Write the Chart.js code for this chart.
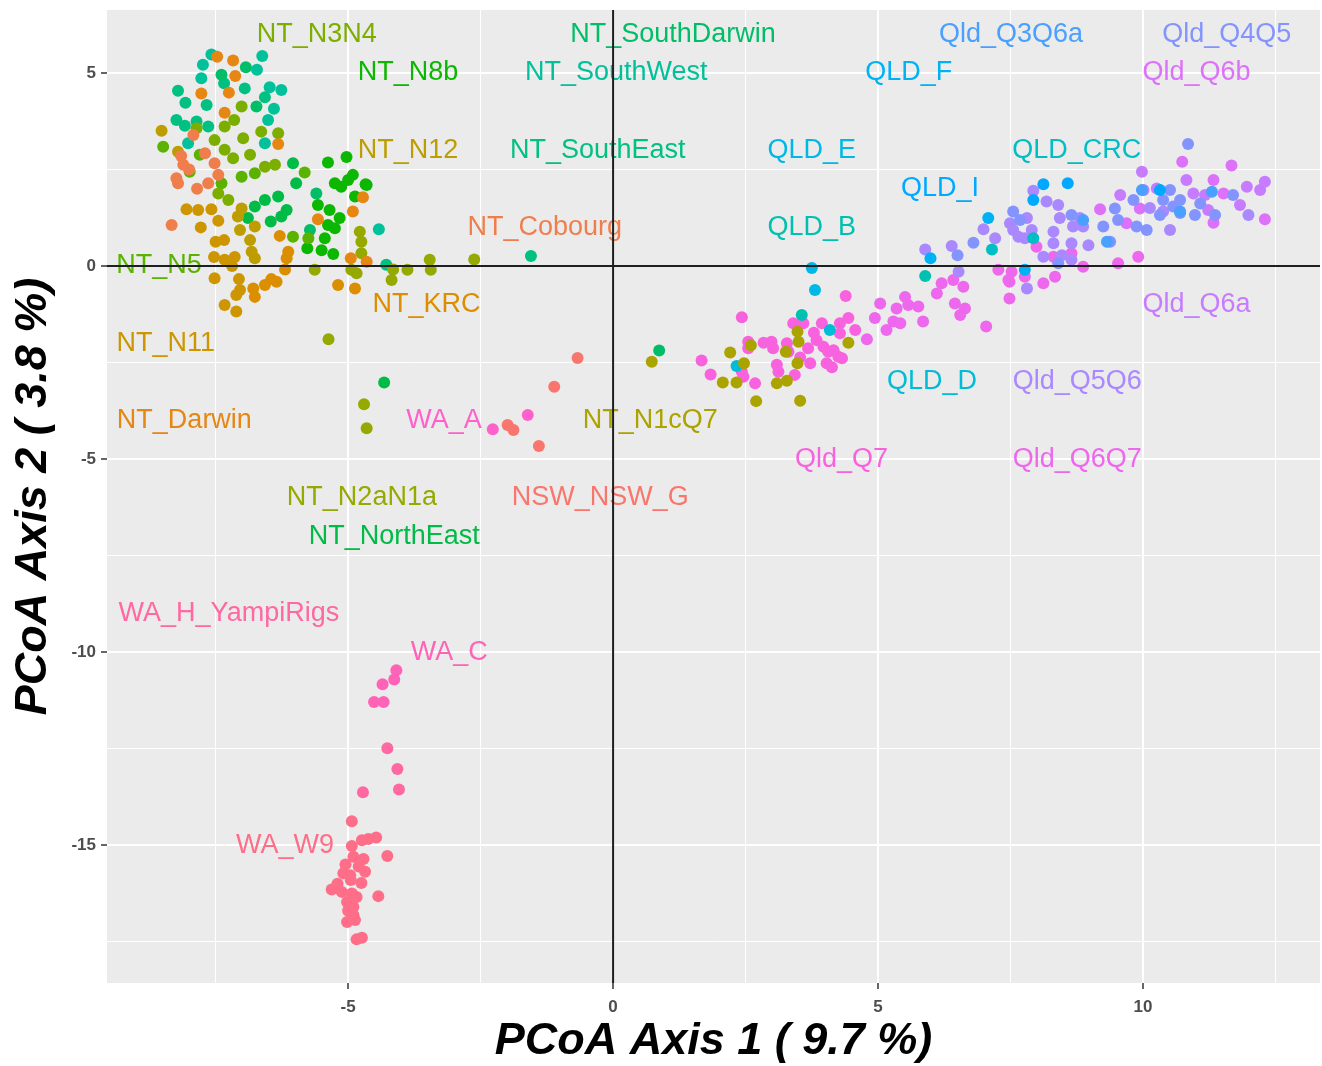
<!DOCTYPE html>
<html>
<head>
<meta charset="utf-8">
<title>PCoA</title>
<script src="https://cdn.jsdelivr.net/npm/chart.js@4.4.1/dist/chart.umd.min.js"></script>
<style>
  html, body { margin: 0; padding: 0; background: #ffffff; }
  canvas { display: block; }
</style>
</head>
<body>
<canvas id="pcoa" width="1322" height="1066"></canvas>
<script>
// Population groups (alphabetical, as in the colour scale)
const groupNames = [
  'NSW_NSW_G', 'NT_Cobourg', 'NT_Darwin', 'NT_KRC', 'NT_N11', 'NT_N12', 'NT_N1cQ7', 'NT_N2aN1a',
  'NT_N3N4', 'NT_N5', 'NT_N8b', 'NT_NorthEast', 'NT_SouthDarwin', 'NT_SouthEast', 'NT_SouthWest',
  'QLD_B', 'QLD_CRC', 'QLD_D', 'QLD_E', 'QLD_F', 'QLD_I', 'Qld_Q3Q6a', 'Qld_Q4Q5', 'Qld_Q5Q6',
  'Qld_Q6a', 'Qld_Q6b', 'Qld_Q6Q7', 'Qld_Q7', 'WA_A', 'WA_C', 'WA_H_YampiRigs', 'WA_W9'
];

// Group label positions (PCoA axis units)
const labelX = [-0.24, -1.29, -8.09, -3.52, -8.44, -3.87, 0.70, -4.74,
  -5.59, -8.57, -3.87, -4.13, 1.13, -0.29, 0.06,
  3.75, 8.75, 6.02, 3.75, 5.58, 6.17, 7.51, 11.58, 8.76,
  11.01, 11.01, 8.76, 4.31, -3.19, -3.09, -7.25, -6.19];
const labelY = [-6, 1, -4, -1, -2, 3, -4, -6,
  6, 0, 5, -7, 6, 3, 5,
  1, 3, -3, 3, 5, 2, 6, 6, -3,
  -1, 5, -5, -5, -4, -10, -9, -15];

// Sample scores [axis 1, axis 2] per group
const NSW_NSW_G = [[-0.67,-2.38],[-1.11,-3.13],[-1.99,-4.12],[-1.88,-4.25],[-1.40,-4.66]];
const NT_Cobourg = [[-8.11,2.62],[-8.21,2.14],[-8.24,2.27],[-7.92,3.39],[-7.52,2.66],[-7.64,2.14],
  [-7.45,2.36],[-7.70,2.92],[-8.33,1.06],[-8.00,2.50],[-7.85,2.00],[-8.15,2.85]];
const NT_Darwin = [[-7.47,5.42],[-7.17,5.32],[-7.13,4.92],[-7.77,4.47],[-7.25,4.49],[-7.33,3.97],
  [-6.32,3.16],[-4.72,1.78],[-4.91,1.41],[-5.57,1.21],[-4.95,0.20],[-4.65,0.11]];
const NT_KRC = [[-5.19,-0.49],[-4.87,-0.58],[-6.19,-0.09],[-6.13,0.37],[-6.16,0.20],[-6.29,0.78],
  [-6.57,-0.49],[-6.45,-0.34],[-6.35,-0.41],[-6.79,-0.58],[-6.76,-0.80]];
const NT_N11 = [[-8.05,1.47],[-7.83,1.45],[-7.58,1.47],[-7.78,1.00],[-7.45,1.17],[-7.50,0.63],
  [-7.34,0.67],[-7.53,0.23],[-7.33,0.16],[-7.14,0.23],[-7.19,0.00],[-7.52,-0.32],[-7.06,-0.34],
  [-7.04,-0.62],[-7.11,-0.75],[-7.33,-1.01],[-7.11,-1.18]];
const NT_N12 = [[-8.52,3.50],[-8.21,2.96],[-6.85,0.67],[-6.76,0.20],[-6.82,0.37],[-7.08,1.28],
  [-7.04,0.93],[-7.01,1.49],[-6.76,1.02]];
const NT_N1cQ7 = [[0.73,-2.48],[2.21,-2.24],[2.47,-2.52],[2.60,-2.05],[2.07,-3.02],[2.33,-3.02],
  [2.70,-3.50],[3.09,-3.04],[3.28,-2.97],[3.26,-2.22],[3.48,-1.70],[3.50,-1.96],[3.48,-2.52],
  [3.53,-3.49],[4.44,-1.99]];
const NT_N2aN1a = [[-4.78,0.89],[-4.75,0.63],[-4.75,0.33],[-4.94,-0.10],[-4.84,-0.19],[-4.15,-0.09],
  [-4.18,-0.36],[-3.88,-0.10],[-3.46,0.16],[-3.44,-0.10],[-2.62,0.17],[-5.63,-0.10],[-5.37,-1.90],
  [-4.70,-3.58],[-4.65,-4.20]];
const NT_N3N4 = [[-7.01,4.13],[-7.15,3.78],[-6.98,3.31],[-6.64,3.48],[-6.32,3.44],[-6.85,2.88],
  [-6.57,2.57],[-7.17,2.79],[-7.33,3.01],[-7.52,3.26],[-7.86,3.57],[-7.33,3.61],[-6.38,2.62],
  [-7.45,1.88],[-7.26,1.71]];
const NT_N5 = [[-7.80,2.88],[-7.99,2.44],[-7.39,2.14],[-7.01,2.31],[-6.76,2.40],[-5.82,2.42],
  [-6.04,0.76],[-5.75,0.72],[-8.49,3.09]];
const NT_N8b = [[-5.38,2.68],[-5.03,2.82],[-4.91,2.36],[-5.00,2.23],[-5.25,2.14],[-4.67,2.12],
  [-5.13,2.05],[-4.87,1.80],[-4.65,2.10],[-5.57,1.58],[-5.35,1.45],[-5.38,1.06],[-5.16,1.24],
  [-5.25,0.98],[-5.44,0.72],[-5.77,0.46],[-5.50,0.41],[-5.28,0.31]];
const NT_NorthEast = [[-5.98,2.14],[-6.04,2.66],[-6.76,1.54],[-6.57,1.71],[-6.32,1.80],[-6.16,1.45],
  [-6.26,1.28],[-6.46,1.15],[-6.89,1.24],[-4.32,-3.02]];
const NT_SouthDarwin = [[0.87,-2.19],[-5.60,1.88],[-5.72,0.93],[-6.93,5.15],[-7.39,4.95],[-6.73,4.13]];
const NT_SouthEast = [[-7.34,4.73],[-6.95,4.60],[-8.21,4.54],[-8.07,4.23],[-7.67,4.17],[-6.57,4.37],
  [-8.24,3.78],[-8.08,3.63],[-7.86,3.74],[-7.64,3.61],[-4.28,0.03],[-1.55,0.26]];
const NT_SouthWest = [[-7.58,5.48],[-6.62,5.44],[-7.74,5.21],[-6.72,5.08],[-7.77,4.86],[-6.48,4.63],
  [-6.26,4.56],[-6.40,4.07],[-6.51,3.78],[-6.57,3.18],[-8.02,3.18],[-4.42,0.95]];
const QLD_B = [[3.56,-1.27],[5.89,-0.26]];
const QLD_CRC = [[7.15,0.43],[7.93,0.72]];
const QLD_D = [[4.09,-1.66],[2.33,-2.59]];
const QLD_E = [[3.75,-0.05],[3.81,-0.62]];
const QLD_F = [[7.08,1.24],[5.99,0.20],[7.77,-0.10]];
const QLD_I = [[8.12,2.12],[8.58,2.14],[7.93,1.71],[10.32,1.97]];
const Qld_Q3Q6a = [[9.98,1.97],[10.70,1.41],[11.30,1.92],[9.32,0.63],[8.87,1.19]];
const Qld_Q4Q5 = [[10.85,3.16],[6.80,0.60],[8.40,0.07],[6.50,0.28],[7.55,1.41],[7.68,1.19],
  [9.47,1.49],[10.07,0.93],[11.08,1.62],[8.65,1.32],[9.25,1.02],[9.53,1.19],[9.38,0.63],
  [9.82,1.71],[9.88,1.02],[10.38,1.71],[10.51,1.97],[10.57,1.54],[10.70,1.37],[11.70,1.84],
  [10.70,1.71],[10.98,1.32],[10.32,1.32],[11.36,1.32]];
const Qld_Q5Q6 = [[7.93,1.95],[8.18,1.67],[8.40,1.58],[6.99,0.95],[7.21,0.72],[6.39,0.52],[5.89,0.43],
  [7.49,1.11],[7.81,1.24],[7.90,0.93],[7.65,0.76],[7.55,0.93],[7.77,0.72],[8.12,0.24],[8.31,0.89],
  [8.31,0.59],[8.43,1.24],[8.81,1.24],[8.68,1.02],[8.87,1.02],[8.97,0.54],[8.65,0.59],[8.47,0.28],
  [8.65,0.16],[7.81,-0.58],[6.52,-0.15],[10.38,1.41],[10.51,0.93],[10.13,1.50],[11.99,1.32]];
const Qld_Q6a = [[9.98,2.44],[10.01,1.97],[10.26,2.01],[10.82,2.23],[11.23,1.45],[11.96,2.05],
  [12.21,1.97],[12.30,2.18],[11.17,1.84],[11.83,1.58],[9.57,1.84],[10.95,1.88]];
const Qld_Q6b = [[10.74,2.70],[11.67,2.60],[9.19,1.47],[9.94,1.49],[11.33,2.23],[11.52,1.88],
  [11.33,1.12],[9.69,1.11],[12.30,1.21]];
const Qld_Q6Q7 = [[4.79,-1.90],[4.94,-1.35],[5.04,-0.97],[5.16,-1.66],[5.29,-1.44],[5.42,-1.48],
  [5.35,-1.10],[5.51,-0.80],[5.57,-1.01],[5.76,-1.05],[5.85,-1.44],[6.11,-0.71],[6.20,-0.45],
  [6.42,-0.36],[6.61,-0.54],[6.45,-0.97],[6.64,-1.10],[6.55,-1.27],[7.04,-1.57],[7.48,-0.84],
  [7.48,-0.41],[7.27,-0.10],[7.52,-0.15],[7.46,-0.36],[7.77,-0.28],[8.12,-0.45],[8.34,-0.28],
  [7.99,0.50],[8.31,0.24],[8.65,0.33],[8.87,-0.02],[9.53,0.07],[9.91,0.24]];
const Qld_Q7 = [[2.43,-1.33],[1.67,-2.45],[1.84,-2.81],[2.55,-1.96],[2.55,-2.13],[2.43,-2.74],
  [2.46,-2.87],[2.68,-3.04],[2.84,-1.99],[2.99,-1.96],[3.02,-2.13],[3.09,-2.56],[3.12,-2.74],
  [3.28,-2.00],[3.31,-2.22],[3.40,-1.48],[3.59,-1.48],[3.43,-2.82],[3.53,-2.37],[3.68,-2.13],
  [3.84,-1.92],[3.72,-2.52],[3.79,-1.73],[3.94,-1.48],[3.97,-2.09],[4.06,-2.22],[4.16,-2.18],
  [4.25,-2.35],[4.03,-2.52],[4.13,-2.62],[4.32,-2.39],[4.28,-1.48],[4.44,-1.35],[4.28,-1.74],
  [4.39,-0.78],[4.57,-1.66]];
const WA_A = [[-2.27,-4.23],[-1.61,-3.86]];
const WA_C = [[-4.09,-10.47],[-4.13,-10.71],[-4.35,-10.83],[-4.51,-11.29],[-4.33,-11.29]];
const WA_H_YampiRigs = [[-4.26,-12.49],[-4.07,-13.03],[-4.04,-13.56],[-4.72,-13.63]];
const WA_W9 = [[-4.93,-14.38],[-4.47,-14.80],[-4.62,-14.84],[-4.74,-14.87],[-4.93,-15.02],
  [-4.90,-15.30],[-4.71,-15.36],[-4.26,-15.28],[-4.68,-15.69],[-5.09,-15.73],[-4.96,-15.78],
  [-4.75,-15.98],[-5.31,-16.15],[-5.12,-16.21],[-4.93,-16.25],[-4.84,-16.34],[-4.43,-16.32],
  [-5.02,-16.47],[-4.90,-16.60],[-4.90,-16.81],[-5.02,-16.99],[-4.87,-16.94],[-4.84,-17.44],
  [-4.74,-17.40],[-5.05,-15.50],[-5.20,-16.00],[-4.95,-15.90],[-5.00,-16.70],[-4.80,-15.55]];

const groupPoints = [NSW_NSW_G, NT_Cobourg, NT_Darwin, NT_KRC, NT_N11, NT_N12, NT_N1cQ7, NT_N2aN1a,
  NT_N3N4, NT_N5, NT_N8b, NT_NorthEast, NT_SouthDarwin, NT_SouthEast, NT_SouthWest,
  QLD_B, QLD_CRC, QLD_D, QLD_E, QLD_F, QLD_I, Qld_Q3Q6a, Qld_Q4Q5, Qld_Q5Q6,
  Qld_Q6a, Qld_Q6b, Qld_Q6Q7, Qld_Q7, WA_A, WA_C, WA_H_YampiRigs, WA_W9];

// Axis ticks
const xTicks = [-5, 0, 5, 10];
const yTicks = [-15, -10, -5, 0, 5];

// Evenly spaced hues in polar CIE-Luv (chroma 100, luminance 65)
function hclColor(h, c, l) {
  const hr = h * Math.PI / 180;
  const U = c * Math.cos(hr), V = c * Math.sin(hr);
  const Xn = 95.047, Yn = 100.0, Zn = 108.883;
  const den = Xn + 15 * Yn + 3 * Zn;
  const un = 4 * Xn / den, vn = 9 * Yn / den;
  const Y = Yn * (l > 8 ? Math.pow((l + 16) / 116, 3) : l / 903.3);
  const u = U / (13 * l) + un, v = V / (13 * l) + vn;
  const X = 9 * Y * u / (4 * v);
  const Z = Y * (12 - 3 * u - 20 * v) / (4 * v);
  const x = X / 100, y = Y / 100, z = Z / 100;
  const lin = [
    3.240479 * x - 1.537150 * y - 0.498535 * z,
    -0.969256 * x + 1.875992 * y + 0.041556 * z,
    0.055648 * x - 0.204043 * y + 1.057311 * z
  ];
  const rgb = lin.map(t => {
    const g = t <= 0.0031308 ? 12.92 * t : 1.055 * Math.pow(t, 1 / 2.4) - 0.055;
    return Math.round(Math.min(1, Math.max(0, g)) * 255);
  });
  return 'rgb(' + rgb.join(',') + ')';
}
const nGroups = groupNames.length;
const palette = groupNames.map((_, i) => hclColor(15 + 360 * i / nGroups, 100, 65));

const FONT = "'Liberation Sans', Arial, Helvetica, sans-serif";

const datasets = groupNames.map((name, i) => ({
  label: name,
  data: groupPoints[i].map(p => ({ x: p[0], y: p[1] })),
  backgroundColor: palette[i],
  borderWidth: 0,
  pointRadius: 6,
  pointHoverRadius: 6
}));

// Grey panel behind the grid
const panelBackground = {
  id: 'panelBackground',
  beforeDraw(chart) {
    const { ctx, chartArea: a } = chart;
    ctx.save();
    ctx.fillStyle = '#EBEBEB';
    ctx.fillRect(a.left, a.top, a.right - a.left, a.bottom - a.top);
    ctx.restore();
  }
};

// Group names written in their group colour
const groupLabels = {
  id: 'groupLabels',
  afterDatasetsDraw(chart) {
    const { ctx, chartArea: a } = chart;
    const xs = chart.scales.x, ys = chart.scales.y;
    ctx.save();
    ctx.beginPath();
    ctx.rect(a.left, a.top, a.right - a.left, a.bottom - a.top);
    ctx.clip();
    ctx.font = '27px ' + FONT;
    ctx.textAlign = 'center';
    ctx.textBaseline = 'middle';
    groupNames.forEach((name, i) => {
      ctx.fillStyle = palette[i];
      ctx.fillText(name, xs.getPixelForValue(labelX[i]), ys.getPixelForValue(labelY[i]));
    });
    ctx.restore();
  }
};

// Reference lines through the origin
const originLines = {
  id: 'originLines',
  afterDatasetsDraw(chart) {
    const { ctx, chartArea: a } = chart;
    const x0 = chart.scales.x.getPixelForValue(0);
    const y0 = chart.scales.y.getPixelForValue(0);
    ctx.save();
    ctx.strokeStyle = '#1f1f1f';
    ctx.lineWidth = 2;
    ctx.beginPath();
    ctx.moveTo(x0, a.top); ctx.lineTo(x0, a.bottom);
    ctx.moveTo(a.left, y0); ctx.lineTo(a.right, y0);
    ctx.stroke();
    ctx.restore();
  }
};

const isMajor = (v, list) => list.some(t => Math.abs(t - v) < 1e-6);

new Chart(document.getElementById('pcoa'), {
  type: 'scatter',
  data: { datasets },
  plugins: [panelBackground, groupLabels, originLines],
  options: {
    responsive: false,
    animation: false,
    devicePixelRatio: 1,
    layout: { autoPadding: false, padding: { top: 10, right: 2, left: 0, bottom: 0 } },
    plugins: { legend: { display: false }, tooltip: { enabled: false } },
    scales: {
      x: {
        type: 'linear',
        min: -9.55,
        max: 13.34,
        border: { display: false },
        grid: {
          color: '#FFFFFF',
          lineWidth: c => (c.tick && isMajor(c.tick.value, xTicks)) ? 2 : 1,
          tickColor: c => (c.tick && isMajor(c.tick.value, xTicks)) ? '#333333' : 'rgba(0,0,0,0)',
          tickLength: 6,
          tickWidth: 1.5
        },
        ticks: {
          stepSize: 2.5,
          includeBounds: false,
          autoSkip: false,
          maxRotation: 0,
          padding: 8,
          color: '#4D4D4D',
          font: { family: FONT, size: 17, weight: 'bold' },
          callback: v => isMajor(v, xTicks) ? String(v) : ''
        },
        title: {
          display: true,
          text: 'PCoA Axis 1 ( 9.7 %)',
          color: '#000000',
          font: { family: FONT, size: 45, weight: 'bold', style: 'italic', lineHeight: 1 },
          padding: { top: 0, bottom: 2 }
        },
        afterFit: s => { s.height = 83; s.paddingLeft = 0; s.paddingRight = 0; }
      },
      y: {
        type: 'linear',
        min: -18.57,
        max: 6.63,
        border: { display: false },
        grid: {
          color: '#FFFFFF',
          lineWidth: c => (c.tick && isMajor(c.tick.value, yTicks)) ? 2 : 1,
          tickColor: c => (c.tick && isMajor(c.tick.value, yTicks)) ? '#333333' : 'rgba(0,0,0,0)',
          tickLength: 6,
          tickWidth: 1.5
        },
        ticks: {
          stepSize: 2.5,
          includeBounds: false,
          autoSkip: false,
          padding: 5,
          color: '#4D4D4D',
          font: { family: FONT, size: 17, weight: 'bold' },
          callback: v => isMajor(v, yTicks) ? String(v) : ''
        },
        title: {
          display: true,
          text: 'PCoA Axis 2 ( 3.8 %)',
          color: '#000000',
          font: { family: FONT, size: 45, weight: 'bold', style: 'italic', lineHeight: 1 },
          padding: { top: 11, bottom: 0 }
        },
        afterFit: s => { s.width = 107; s.paddingTop = 0; s.paddingBottom = 0; }
      }
    }
  }
});
</script>
</body>
</html>
